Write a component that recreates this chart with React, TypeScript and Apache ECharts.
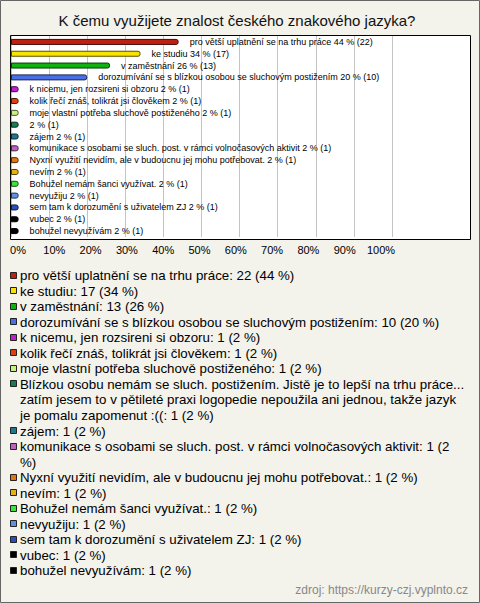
import React, { useEffect, useRef } from 'react';
import * as echarts from 'echarts';

const title = 'K čemu využijete znalost českého znakového jazyka?';
const sourceText = 'zdroj: https://kurzy-czj.vyplnto.cz';
const respondents = 50;

const categories = [
  'pro větší uplatnění se na trhu práce',
  'ke studiu',
  'v zaměstnání',
  'dorozumívání se s blízkou osobou se sluchovým postižením',
  'k nicemu, jen rozsireni si obzoru',
  'kolik řečí znáš, tolikrát jsi člověkem',
  'moje vlastní potřeba sluchově postiženého',
  'Blízkou osobu nemám se sluch. postižením. Jistě je to lepší na trhu práce...\nzatím jesem to v pětileté praxi logopedie nepoužila ani jednou, takže jazyk je pomalu zapomenut :((',
  'zájem',
  'komunikace s osobami se sluch. post. v rámci volnočasových aktivit',
  'Nyxní využití nevidím, ale v budoucnu jej mohu potřebovat.',
  'nevím',
  'Bohužel nemám šanci využívat.',
  'nevyužiju',
  'sem tam k dorozumění s uživatelem ZJ',
  'vubec',
  'bohužel nevyužívám',
];

const barNames = [
  'pro větší uplatnění se na trhu práce',
  'ke studiu',
  'v zaměstnání',
  'dorozumívání se s blízkou osobou se sluchovým postižením',
  'k nicemu, jen rozsireni si obzoru',
  'kolik řečí znáš, tolikrát jsi člověkem',
  'moje vlastní potřeba sluchově postiženého',
  '',
  'zájem',
  'komunikace s osobami se sluch. post. v rámci volnočasových aktivit',
  'Nyxní využití nevidím, ale v budoucnu jej mohu potřebovat.',
  'nevím',
  'Bohužel nemám šanci využívat.',
  'nevyužiju',
  'sem tam k dorozumění s uživatelem ZJ',
  'vubec',
  'bohužel nevyužívám',
];

const counts = [22, 17, 13, 10, 1, 1, 1, 1, 1, 1, 1, 1, 1, 1, 1, 1, 1];

const colors = [
  '#c0200f', '#f8e400', '#10b010', '#4a6ee8', '#c020d0', '#e04010',
  '#c8f080', '#108050', '#207890', '#c060c0', '#e07810', '#e8b010',
  '#40e040', '#6090e0', '#2850b8', '#000000', '#000000',
];

const FONT = "'Liberation Sans', Arial, sans-serif";

function darken(hex: string, f: number) {
  const n = parseInt(hex.slice(1), 16);
  const r = Math.round(((n >> 16) & 255) * f);
  const g = Math.round(((n >> 8) & 255) * f);
  const b = Math.round((n & 255) * f);
  return `rgb(${r},${g},${b})`;
}

function wrapText(text: string, font: string, maxW: number): string[] {
  const ctx: any = document.createElement('canvas').getContext('2d')!;
  ctx.font = font;
  try { ctx.fontKerning = 'none'; } catch (e) { /* ignore */ }
  const lines: string[] = [];
  text.split('\n').forEach((para) => {
    let cur = '';
    for (const w of para.split(' ')) {
      const test = cur ? cur + ' ' + w : w;
      if (cur && ctx.measureText(test).width > maxW) {
        lines.push(cur);
        cur = w;
      } else {
        cur = test;
      }
    }
    if (cur) lines.push(cur);
  });
  return lines;
}

export default function App() {
  const ref = useRef<HTMLDivElement>(null);
  useEffect(() => {
    document.body.style.margin = '0';
    const chart = echarts.init(ref.current!, undefined, { renderer: 'svg' });
    const pcts = counts.map((c) => Math.round((c / respondents) * 100));

    const legendSize = 13.3;
    const legendFont = `${legendSize}px ${FONT}`;
    const lineH = 15.55;
    let y = 275.5;
    const legendEls: any[] = [];
    categories.forEach((name, i) => {
      const lines = wrapText(`${name}: ${counts[i]} (${pcts[i]} %)`, legendFont, 33.52 * legendSize);
      legendEls.push({
        type: 'rect',
        shape: { x: 10.5, y: Math.round(y - 4) + 0.5, width: 6, height: 6 },
        style: { fill: colors[i], stroke: '#222', lineWidth: 1 },
      });
      lines.forEach((ln, k) => {
        legendEls.push({
          type: 'text',
          style: {
            text: ln, x: 20, y: y + k * lineH, font: legendFont, fill: '#000',
            verticalAlign: 'middle', align: 'left',
          },
        });
      });
      y += lines.length * lineH;
    });

    chart.setOption({
      animation: false,
      backgroundColor: '#f3f2eb',
      graphic: [
        {
          type: 'rect', z: -1,
          shape: { x: 0.5, y: 0.5, width: 479, height: 602 },
          style: { fill: 'none', stroke: '#666', lineWidth: 1 },
        },
        {
          type: 'rect', z: -1,
          shape: { x: 10.5, y: 35.5, width: 460, height: 204 },
          style: { fill: '#ffffff', stroke: '#000', lineWidth: 1 },
        },
        {
          type: 'text',
          style: { text: title, x: 237, y: 20, font: `15px ${FONT}`, fill: '#111', align: 'center', verticalAlign: 'middle' },
        },
        {
          type: 'text',
          style: { text: sourceText, x: 468, y: 590, font: `12px ${FONT}`, fill: '#888', align: 'right', verticalAlign: 'middle' },
        },
        ...legendEls,
      ],
      grid: [
        { left: 11, right: 88, top: 36, height: 201 },
        { left: 18, right: 99, top: 240, height: 1 },
      ],
      xAxis: [
        {
          gridIndex: 0, type: 'value', min: 0, max: 100, interval: 10,
          axisLabel: { show: false }, axisLine: { show: false }, axisTick: { show: false },
          splitLine: { show: true, lineStyle: { color: '#c4c4c4', width: 1 } },
        },
        {
          gridIndex: 1, type: 'value', min: 0, max: 100, interval: 10,
          axisLabel: { formatter: '{value}%', fontSize: 11, fontFamily: FONT, color: '#000', margin: 3 },
          axisLine: { show: false }, axisTick: { show: false }, splitLine: { show: false },
        },
      ],
      yAxis: [
        { gridIndex: 0, type: 'category', data: categories, inverse: true, show: false },
        { gridIndex: 1, type: 'value', show: false },
      ],
      series: [
        {
          type: 'bar', xAxisIndex: 0, yAxisIndex: 0, barWidth: 6,
          data: counts.map((c, i) => ({
            value: (c / respondents) * 100,
            itemStyle: { color: colors[i], borderColor: darken(colors[i], 0.35), borderWidth: 1, borderRadius: [0, 2, 2, 0] },
          })),
          label: {
            show: true, position: 'right', distance: 11, fontSize: 9, fontFamily: FONT, color: '#000',
            formatter: (p: any) => {
              const n = barNames[p.dataIndex];
              const s = `${pcts[p.dataIndex]} % (${counts[p.dataIndex]})`;
              return n ? `${n} ${s}` : s;
            },
          },
        },
      ],
    });
    return () => chart.dispose();
  }, []);
  return <div ref={ref} style={{ position: 'absolute', left: 0, top: 0, width: 480, height: 603 }} />;
}
